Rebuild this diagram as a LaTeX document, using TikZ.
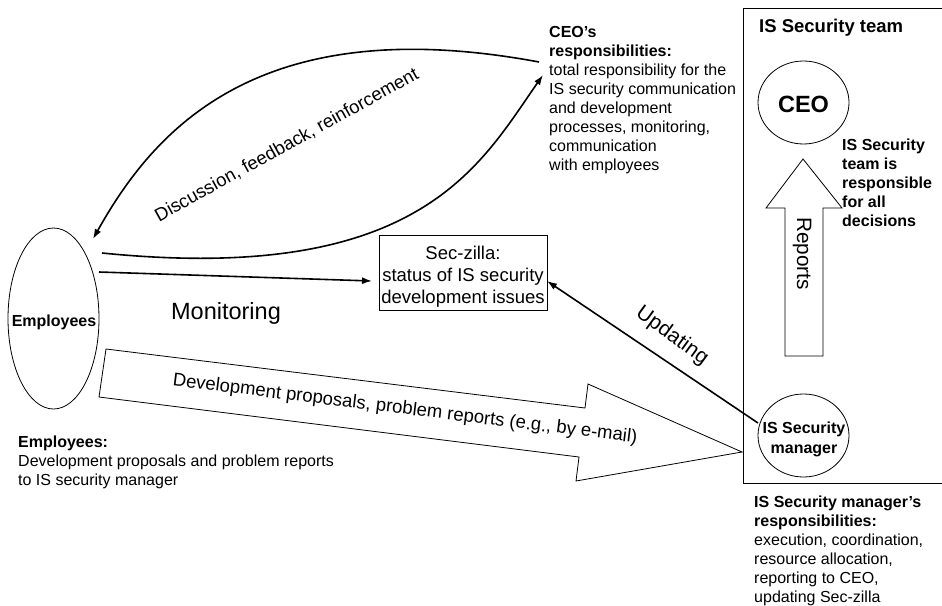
\documentclass[tikz,border=0pt]{standalone}
\usepackage{fontspec}
\setmainfont{Liberation Sans}
\usetikzlibrary{arrows.meta,shapes.geometric}
\begin{document}
\begin{tikzpicture}[x=1pt,y=-1pt,
  thinline/.style={line width=0.8pt},
  flow/.style={line width=1.6pt,-{Latex[length=10pt,width=7pt]}},
  oval/.style={draw,ellipse,thinline,inner sep=0pt},
  body/.style={font=\fontsize{16}{19}\selectfont,align=left,inner sep=0pt,anchor=north west},
  bodybold/.style={font=\fontsize{16}{19}\selectfont\bfseries,align=left,inner sep=0pt,anchor=north west},
  bigtext/.style={font=\fontsize{18.5}{22}\selectfont,inner sep=0pt},
  blockarrow/.style={draw,thinline,line join=miter,fill=white},
]
\fill[white] (0,0) rectangle (942,605);
\useasboundingbox (0,0) rectangle (942,605);

% team frame (open on the right)
\draw[thinline] (950,8) -- (743,8) -- (743,483) -- (950,483);
\node[font=\fontsize{18.5}{22}\selectfont\bfseries,inner sep=0pt,anchor=base west] (teamtitle) at (759,32.3) {IS Security team};

% actors
\node[oval,minimum width=91pt,minimum height=181pt] (emp) at (53.5,318.5) {};
\node[font=\fontsize{16}{19}\selectfont\bfseries,inner sep=0pt] (emplabel) at (54,322) {Employees};

\node[oval,minimum width=91pt,minimum height=83pt] (ceo) at (803.5,102.5) {};
\node[font=\fontsize{23.5}{28}\selectfont\bfseries,inner sep=0pt] (ceolabel) at (803.5,104) {CEO};

\node[oval,minimum width=91pt,minimum height=83pt] (mgr) at (803.5,435.5) {};
\node[font=\fontsize{16}{20}\selectfont\bfseries,align=center,inner sep=0pt] (mgrlabel) at (804,439.6) {IS Security\\manager};

% Sec-zilla box
\node[draw,thinline,minimum width=168pt,minimum height=75pt,inner sep=0pt] (sz) at (463,272.5) {};
\node[bigtext,align=center] (sztext) at (463,276.8) {Sec-zilla:\\status of IS security\\development issues};

% responsibility notes
\node[body] (ceonote) at (549,26.5) {\textbf{CEO’s}\\\textbf{responsibilities:}\\total responsibility for the\\IS security communication\\and development\\processes, monitoring,\\communication\\with employees};
\node[bodybold] (teamnote) at (842,138.5) {IS Security\\team is\\responsible\\for all\\decisions};
\node[body] (mgrnote) at (754,495.5) {\textbf{IS Security manager’s}\\\textbf{responsibilities:}\\execution, coordination,\\resource allocation,\\reporting to CEO,\\updating Sec-zilla};
\node[body] (empnote) at (18,436) {\textbf{Employees:}\\Development proposals and problem reports\\to IS security manager};

% Reports block arrow
\draw[blockarrow] (803,159) -- (842,208) -- (823,208) -- (823,356) -- (785,356) -- (785,208) -- (766,208) -- cycle;
\node[font=\fontsize{20.8}{24}\selectfont,inner sep=0pt,rotate=-90] (reports) at (802,253.5) {Reports};

% proposals block arrow
\draw[blockarrow] (106,349) -- (585,408) -- (588,384) -- (742,452) -- (576,481) -- (579,457) -- (99,397) -- cycle;
\node[bigtext,rotate=-7.04] (proptext) at (405,409.5) {Development proposals, problem reports (e.g., by e-mail)};

% connector end points
\coordinate (fbStart) at (539,62);
\coordinate (fbEnd) at (93,239);
\coordinate (repStart) at (102,253);
\coordinate (repEnd) at (543,75);
\coordinate (monStart) at (99,272);
\coordinate (monEnd) at (372,281);
\coordinate (updStart) at (758,423);
\coordinate (updEnd) at (547,281);

% connectors
\draw[flow] (fbStart) .. controls (260,10) and (155,128) .. (fbEnd);
\draw[flow] (repStart) .. controls (420,285) and (480,165) .. (repEnd);
\draw[flow] (monStart) -- (monEnd);
\draw[flow] (updStart) -- (updEnd);

% connector labels
\node[bigtext,rotate=29,anchor=base] (fblabel) at (289.5,150) {Discussion, feedback, reinforcement};
\node[font=\fontsize{23.5}{28}\selectfont,inner sep=0pt,anchor=base] (monlabel) at (226,319.4) {Monitoring};
\node[font=\fontsize{21}{25}\selectfont,inner sep=0pt,rotate=-36] (updlabel) at (672,336) {Updating};
\end{tikzpicture}
\end{document}
